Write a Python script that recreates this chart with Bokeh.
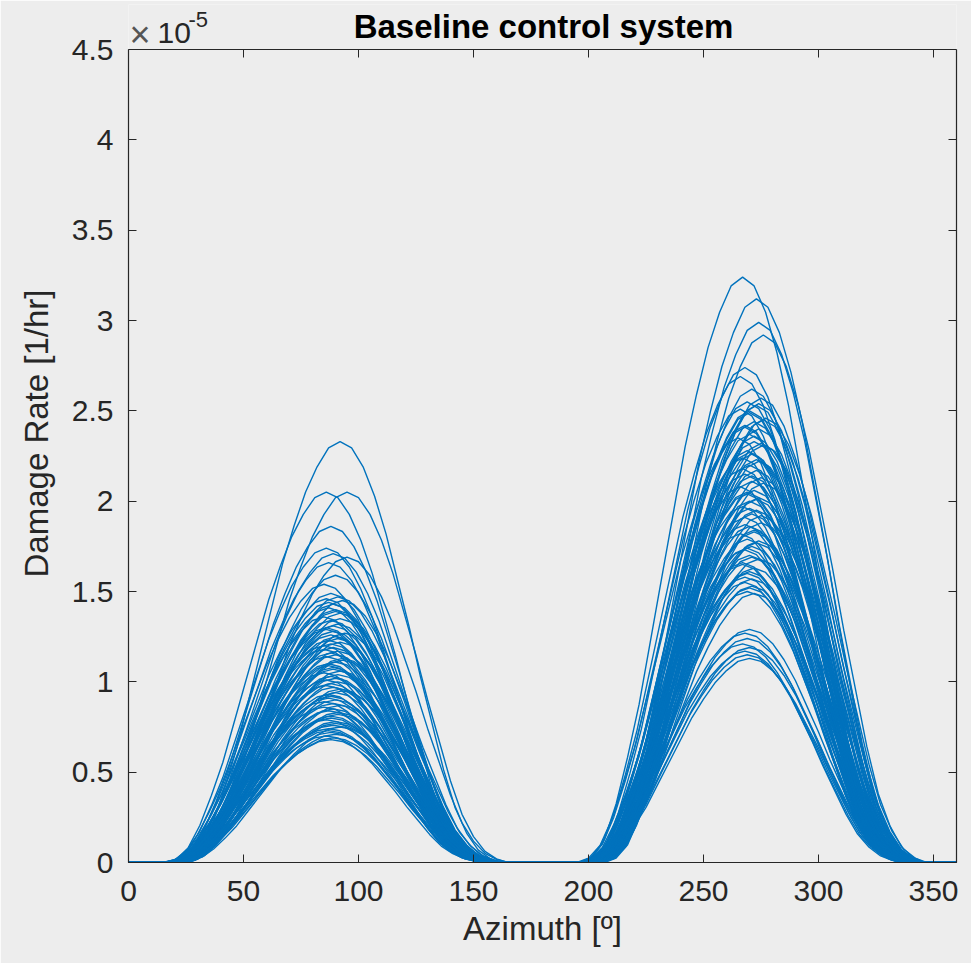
from bokeh.plotting import figure
from bokeh.models import Range1d, LinearAxis, FixedTicker, Label
from bokeh.embed import file_html
from bokeh.resources import INLINE

# ---------------- data (values in units of 1e-5 1/hr) ----------------
x_ticks = [0, 50, 100, 150, 200, 250, 300, 350]
x_tick_labels = ["0", "50", "100", "150", "200", "250", "300", "350"]
y_ticks = [0, 0.5, 1, 1.5, 2, 2.5, 3, 3.5, 4, 4.5]
y_tick_labels = ["0", "0.5", "1", "1.5", "2", "2.5", "3", "3.5", "4", "4.5"]
Y_MAX = 4.5

# read-off hump profile (fraction of peak) at offsets from the peak azimuth
profile_offsets = [-70, -65, -60, -55, -50, -45, -40, -35, -30, -25, -20, -15, -10, -5, 0,
                   5, 10, 15, 20, 25, 30, 35, 40, 45, 50, 55, 60, 65, 70]
profile_values = [0.0, 0.01, 0.04, 0.10, 0.18, 0.27, 0.38, 0.49, 0.60, 0.71, 0.80, 0.88, 0.94, 0.985, 1.0,
                  0.985, 0.94, 0.87, 0.78, 0.67, 0.56, 0.44, 0.33, 0.22, 0.13, 0.07, 0.03, 0.01, 0.0]

# first hump (around 90 deg): peak values and peak azimuths
hump1_peak = [2.33, 2.05, 2.05, 1.86, 1.74, 1.71, 1.69, 1.66, 1.59, 1.54,
              1.49, 1.47, 1.46, 1.45, 1.43, 1.41, 1.39, 1.38, 1.36, 1.34,
              1.32, 1.31, 1.29, 1.27, 1.26, 1.25, 1.23, 1.22, 1.20, 1.19,
              1.17, 1.16, 1.14, 1.13, 1.11, 1.10, 1.08, 1.06, 1.05, 1.03,
              1.02, 1.00, 0.98, 0.97, 0.95, 0.93, 0.92, 0.90, 0.89, 0.87,
              0.85, 0.84, 0.82, 0.80, 0.79, 0.78, 0.76, 0.75, 0.74, 0.72,
              0.71, 0.70, 0.68,
              1.44, 1.40, 1.35, 1.30, 1.28, 1.24, 1.21, 1.18, 1.15, 1.12,
              1.09, 1.07, 1.04, 1.01, 0.99, 0.96, 0.94, 0.91, 0.88, 0.86,
              0.83, 0.81, 0.77, 0.73, 0.69]
hump1_az = [92, 86, 95, 88, 86, 89, 95, 87, 90, 85,
            88, 91, 86, 93, 89, 87, 90, 92, 85, 88,
            91, 89, 86, 94, 88, 90, 87, 92, 85, 89,
            91, 88, 86, 93, 90, 87, 89, 92, 85, 88,
            90, 91, 86, 89, 93, 87, 88, 90, 85, 92,
            89, 87, 91, 88, 86, 90, 89, 92, 87, 88,
            90, 86, 88,
            87, 90, 92, 86, 89, 91, 88, 85, 90, 93,
            87, 89, 91, 86, 88, 92, 90, 87, 89, 85,
            91, 88, 90, 87, 89]

# second hump (around 270 deg)
hump2_peak = [3.24, 3.12, 2.99, 2.92, 2.74, 2.69, 2.62, 2.57, 2.55, 2.53,
              2.51, 2.49, 2.46, 2.44, 2.42, 2.40, 2.37, 2.35, 2.33, 2.31,
              2.28, 2.26, 2.24, 2.22, 2.20, 2.17, 2.15, 2.13, 2.11, 2.08,
              2.06, 2.04, 2.02, 2.00, 1.97, 1.95, 1.93, 1.91, 1.88, 1.86,
              1.84, 1.82, 1.79, 1.77, 1.75, 1.73, 1.70, 1.68, 1.66, 1.63,
              1.60, 1.57, 1.55, 1.52, 1.49, 1.29, 1.27, 1.24, 1.21, 1.19,
              1.17, 1.15, 1.13,
              2.54, 2.50, 2.45, 2.41, 2.36, 2.32, 2.27, 2.23, 2.18, 2.14,
              2.10, 2.05, 2.01, 1.96, 1.92, 1.87, 1.83, 1.78, 1.74, 1.69,
              1.65, 1.61, 1.58, 1.53, 1.50]
hump2_az = [267, 273, 274, 276, 268, 266, 271, 275, 269, 273,
            266, 270, 277, 272, 268, 274, 270, 265, 272, 276,
            269, 271, 267, 274, 270, 273, 268, 275, 271, 266,
            272, 269, 274, 270, 267, 273, 271, 268, 275, 270,
            272, 266, 269, 273, 271, 268, 270, 274, 267, 272,
            269, 271, 268, 270, 272, 270, 268, 269, 267, 270,
            268, 269, 270,
            274, 270, 276, 268, 272, 275, 270, 273, 267, 271,
            276, 269, 273, 270, 275, 268, 272, 274, 269, 271,
            267, 270, 268, 271, 269]

AZ_MIN, AZ_MAX = 0, 360

# ---------------- build curves ----------------
xs, ys = [], []
for p1, a1, p2, a2 in zip(hump1_peak, hump1_az, hump2_peak, hump2_az):
    x = [AZ_MIN] + [a1 + o for o in profile_offsets] + [a2 + o for o in profile_offsets] + [AZ_MAX]
    y = [0.0] + [p1 * v for v in profile_values] + [p2 * v for v in profile_values] + [0.0]
    xs.append(x)
    ys.append(y)

BG = "#EDEDED"
AX = "#262626"
LINE = "#0072BD"
FONT = "Liberation Sans"

# layout: axes box from y=49 (value 4.5) to y=862 (value 0); the frame extends to the top
W, H = 971, 963
BOX_TOP, BOX_BOTTOM = 49, 862
FRAME_TOP = 4
y_end = Y_MAX * (BOX_BOTTOM - FRAME_TOP) / (BOX_BOTTOM - BOX_TOP)

p = figure(width=W, height=H, output_backend="svg", toolbar_location=None,
           x_range=Range1d(0, 360), y_range=Range1d(0, y_end),
           min_border_left=128, min_border_right=15, min_border_top=FRAME_TOP,
           min_border_bottom=H - BOX_BOTTOM,
           background_fill_color=BG, border_fill_color=BG, outline_line_color=None)

p.multi_line(xs=xs, ys=ys, line_color=LINE, line_width=1.4)

p.grid.visible = False


def style_axis(ax, ticks, labels, show_labels=True):
    ax.ticker = FixedTicker(ticks=ticks)
    ax.major_label_overrides = {float(t): l for t, l in zip(ticks, labels)}
    ax.minor_tick_line_color = None
    ax.major_tick_in = 8
    ax.major_tick_out = 0
    ax.major_tick_line_color = AX
    ax.major_tick_line_width = 1
    ax.axis_line_color = AX
    ax.axis_line_width = 1.2
    ax.major_label_text_font = FONT
    if show_labels:
        ax.major_label_text_color = AX
        ax.major_label_text_font_size = "30px"
    else:
        ax.major_label_text_color = None
        ax.major_label_text_font_size = "0px"
        ax.major_label_standoff = 0


style_axis(p.xaxis[0], x_ticks, x_tick_labels)
style_axis(p.yaxis[0], y_ticks, y_tick_labels)
p.yaxis[0].bounds = (0, Y_MAX)
p.xaxis[0].major_label_standoff = 18
p.yaxis[0].major_label_standoff = 15

p.xaxis[0].axis_label = "Azimuth [º]"
p.yaxis[0].axis_label = "Damage Rate [1/hr]"
for ax in (p.xaxis[0], p.yaxis[0]):
    ax.axis_label_text_font = FONT
    ax.axis_label_text_font_size = "33px"
    ax.axis_label_text_font_style = "normal"
    ax.axis_label_text_color = AX
p.xaxis[0].axis_label_standoff = 6
p.yaxis[0].axis_label_standoff = 14

# box: top edge with ticks, right edge with ticks
top_ax = LinearAxis(fixed_location=Y_MAX)
style_axis(top_ax, x_ticks, x_tick_labels, show_labels=False)
p.add_layout(top_ax, "above")
right_ax = LinearAxis(bounds=(0, Y_MAX))
style_axis(right_ax, y_ticks, y_tick_labels, show_labels=False)
p.add_layout(right_ax, "right")

# title (inside the extended frame, above the box); y measured up from the frame bottom
fb = BOX_BOTTOM + 11
p.add_layout(Label(x=(543 - 128), y=fb - 37, x_units="screen", y_units="screen",
                   text="Baseline control system", text_align="center",
                   text_font=FONT, text_font_size="33px", text_font_style="bold",
                   text_color="#000000", text_baseline="alphabetic"))

# exponent label  x10^-5
p.add_layout(Label(x=1, y=fb - 45, x_units="screen", y_units="screen", text="×",
                   text_font=FONT, text_font_size="36px", text_color="#555555",
                   text_baseline="alphabetic"))
p.add_layout(Label(x=29, y=fb - 43, x_units="screen", y_units="screen", text="10",
                   text_font=FONT, text_font_size="30px", text_color=AX,
                   text_baseline="alphabetic"))
p.add_layout(Label(x=60, y=fb - 30, x_units="screen", y_units="screen", text="-5",
                   text_font=FONT, text_font_size="22px", text_color=AX,
                   text_baseline="alphabetic"))

open("out.html", "w").write(file_html(p, INLINE))
